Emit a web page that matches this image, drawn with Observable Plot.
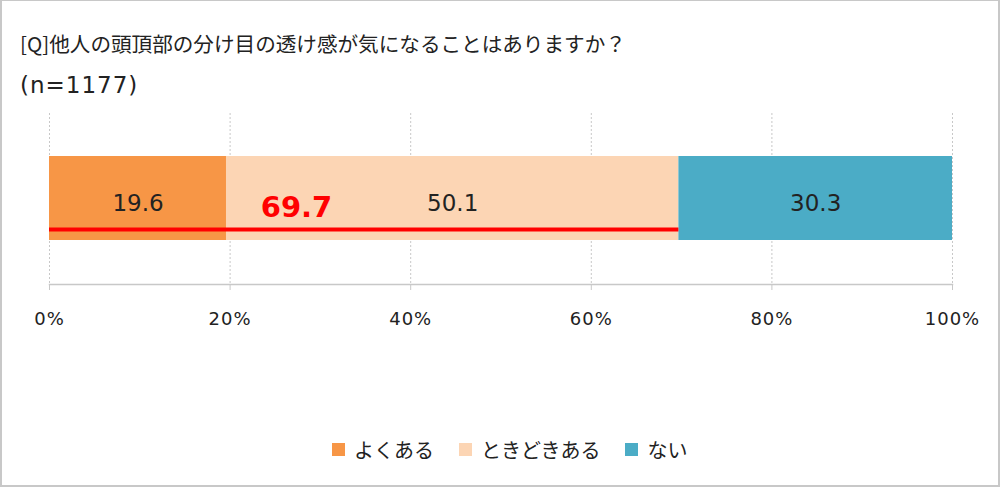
<!DOCTYPE html>
<html>
<head>
<meta charset="utf-8">
<script src="https://cdn.jsdelivr.net/npm/d3@7"></script>
<script src="https://cdn.jsdelivr.net/npm/@observablehq/plot@0.6"></script>
<style>
  html, body { margin: 0; padding: 0; background: #fff; }
  body { position: relative; width: 1000px; height: 487px; overflow: hidden;
         font-family: "Noto Sans CJK JP", "Noto Sans", sans-serif; color: #222; }
  #frame { position: absolute; left: 0; top: 0; width: 1000px; height: 487px;
           box-sizing: border-box; border: 2px solid #c8c8c8; border-top-width: 1px; }
  .title { position: absolute; left: 20px; font-size: 20.6px; line-height: 30px; white-space: nowrap; }
  #t2 { font-family: "DejaVu Sans", sans-serif; letter-spacing: 1px; font-size: 23px; }
  #chart { position: absolute; left: 0; top: 0; }
  #chart svg text.val { letter-spacing: 1.5px; }
  #chart svg [aria-label="x-axis tick label"] text { letter-spacing: 1px; }
  #legend { position: absolute; left: 332px; top: 434px; height: 30px; display: flex;
            align-items: center; font-size: 20px; white-space: nowrap; }
  .item { display: flex; align-items: center; margin-right: 25px; }
  .sw { width: 13px; height: 13px; margin-right: 9px; }
</style>
</head>
<body>
<div id="frame"></div>
<div class="title" id="t1" style="top:28px"></div>
<div class="title" id="t2" style="top:70px"></div>
<div id="chart"></div>
<div id="legend"></div>
<script>
const titleText = "[Q]他人の頭頂部の分け目の透け感が気になることはありますか？";
const subtitleText = "(n=1177)";
const categories = ["よくある", "ときどきある", "ない"];
const values = [19.6, 50.1, 30.3];
const colors = ["#F79646", "#FCD5B4", "#4BACC6"];
const combinedValue = 69.7;
const combinedLabel = "69.7";
const tickValues = [0, 20, 40, 60, 80, 100];
const tickLabels = ["0%", "20%", "40%", "60%", "80%", "100%"];

document.getElementById("t1").textContent = titleText;
document.getElementById("t2").textContent = subtitleText;

const row = "row";
const data = categories.map((c, i) => ({cat: c, value: values[i], label: values[i].toFixed(1)}));
const fmt = (d) => tickLabels[tickValues.indexOf(d)];

const plot = Plot.plot({
  width: 1000,
  height: 340,
  marginLeft: 49,
  marginRight: 48,
  marginTop: 113,
  marginBottom: 56,
  style: {fontFamily: '"DejaVu Sans", sans-serif', background: "transparent"},
  x: {domain: [0, 100], ticks: tickValues, tickFormat: fmt, label: null},
  y: {domain: [row], padding: 0.336, axis: null},
  color: {domain: categories, range: colors},
  marks: [
    Plot.ruleX(tickValues, {stroke: "#c8c8c8", strokeDasharray: "2,2", strokeWidth: 1}),
    Plot.barX(data, Plot.stackX({x: "value", y: () => row, fill: "cat", order: null})),
    Plot.text(data, Plot.stackX({x: "value", y: () => row, text: "label", order: null,
      fontSize: 23, fill: "#222", dy: 5, className: "val"})),
    Plot.ruleY([row], {x1: 0, x2: combinedValue, y: (d) => d, dy: 31, stroke: "#ff0000", strokeWidth: 4}),
    Plot.text([combinedLabel], {x: values[0], y: () => row, text: (d) => d, dx: 70, dy: 9,
      fill: "#ff0000", fontSize: 29, fontWeight: "bold"}),
    Plot.axisX({ticks: tickValues, tickSize: 6, tickPadding: 22, stroke: "#c8c8c8",
      fontSize: 18, fill: "#222", tickFormat: fmt, label: null}),
    Plot.frame({anchor: "bottom", stroke: "#c8c8c8", strokeWidth: 1.5})
  ]
});
document.getElementById("chart").appendChild(plot);

const legend = document.getElementById("legend");
categories.forEach((c, i) => {
  const item = document.createElement("div");
  item.className = "item";
  const sw = document.createElement("div");
  sw.className = "sw";
  sw.style.background = colors[i];
  const label = document.createElement("span");
  label.textContent = c;
  item.appendChild(sw);
  item.appendChild(label);
  legend.appendChild(item);
});
</script>
</body>
</html>
